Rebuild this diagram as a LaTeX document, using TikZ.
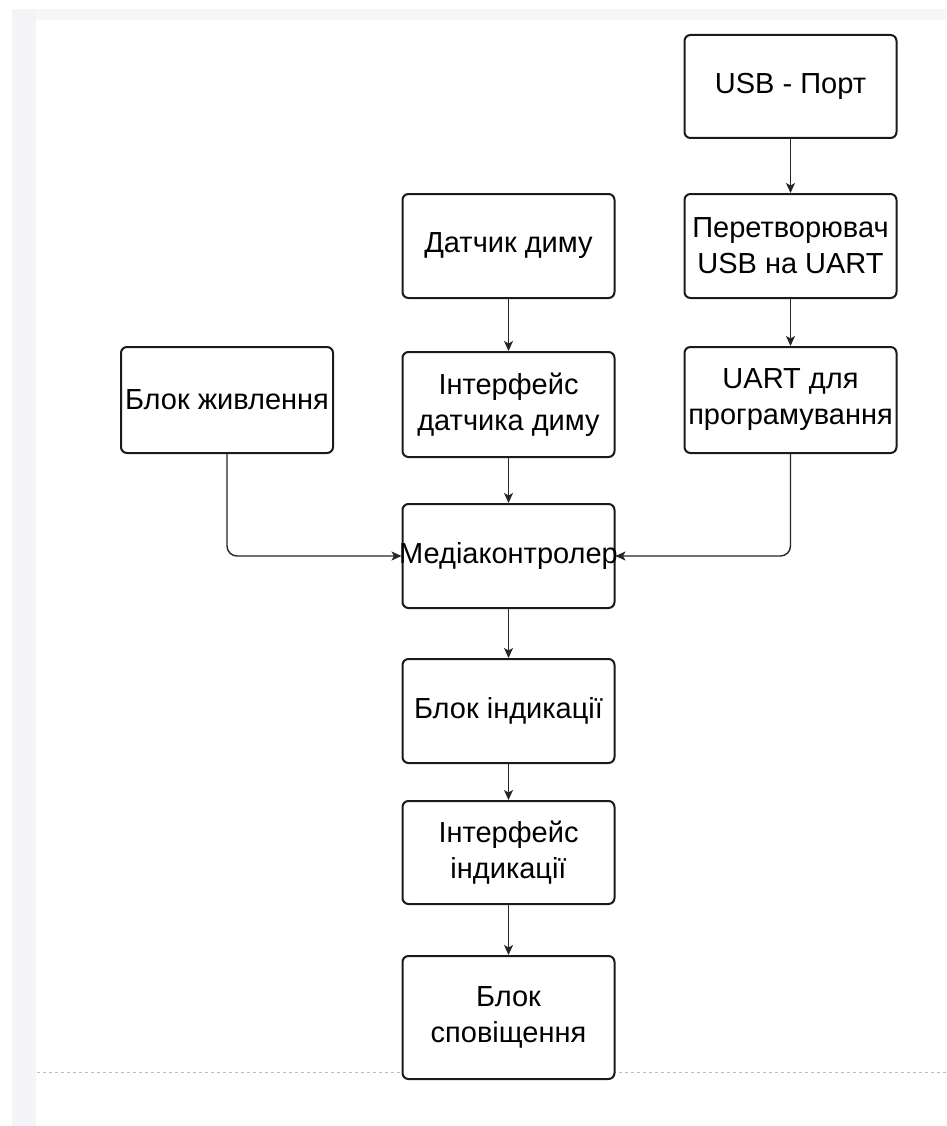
\documentclass[tikz,border=0pt]{standalone}
\usepackage{fontspec}
\setmainfont{Liberation Sans}
\usetikzlibrary{arrows.meta}
\definecolor{stripc}{HTML}{F3F3F8}
\definecolor{bandc}{HTML}{F6F6F7}
\definecolor{dashc}{HTML}{BDBDBD}
\definecolor{edgec}{HTML}{1A1A1A}
\definecolor{linkc}{HTML}{262626}
\begin{document}
\begin{tikzpicture}[x=1pt,y=-1pt,
  blk/.style={draw=edgec, line width=2pt, fill=white, rounded corners=6pt,
    minimum width=212pt, minimum height=104pt, inner sep=0pt, align=center,
    font=\fontsize{29}{36}\selectfont},
  link/.style={draw=linkc, line width=1.4pt, -{Stealth[length=10pt,width=9pt,inset=2.5pt]}},
  elbow/.style={link, rounded corners=10pt}]
\useasboundingbox (0,0) rectangle (946,1126);
\fill[white] (0,0) rectangle (946,1126);
\fill[stripc] (12,9) rectangle (36,1126);
\fill[bandc] (36,9) rectangle (946,20);
\coordinate (dl) at (37,1072);
\coordinate (dr) at (946,1072);
\draw[dashc, line width=1pt, dash pattern=on 3pt off 3pt] (dl) -- (dr);

\node[blk] (usb) at (790.5,86.5) [minimum height=103pt] {USB - Порт};
\node[blk] (conv) at (790.5,246) {Перетворювач\\USB на UART};
\node[blk] (smoke) at (508.5,246) {Датчик диму};
\node[blk] (smokeif) at (508.5,404.5) [minimum height=105pt] {Інтерфейс\\датчика диму};
\node[blk] (power) at (227,400) [minimum height=106pt] {Блок живлення};
\node[blk] (uart) at (790.5,400) [minimum height=106pt] {UART для\\програмування};
\node[blk] (mcu) at (508.5,556) {\makebox[200pt]{Медіаконтролер}};
\node[blk] (ind) at (508.5,711) {Блок індикації};
\node[blk] (indif) at (508.5,852.5) [minimum height=103pt] {Інтерфейс\\індикації};
\node[blk] (alarm) at (508.5,1017.5) [minimum height=123pt] {Блок\\сповіщення};

\draw[link] (usb) -- (conv);
\draw[link] (conv) -- (uart);
\draw[link] (smoke) -- (smokeif);
\draw[link] (smokeif) -- (mcu);
\draw[elbow] (power.south) |- (mcu.west);
\draw[elbow] (uart.south) |- (mcu.east);
\draw[link] (mcu) -- (ind);
\draw[link] (ind) -- (indif);
\draw[link] (indif) -- (alarm);
\end{tikzpicture}
\end{document}
